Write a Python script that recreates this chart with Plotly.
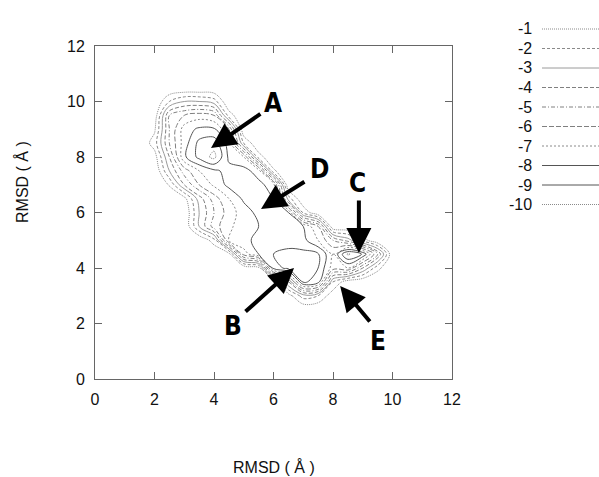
import plotly.graph_objects as go

# ---------------- data ----------------
grid_x = [1.5, 2.0, 2.5, 3.0, 3.5, 4.0, 4.5, 5.0, 5.5, 6.0, 6.5, 7.0, 7.5, 8.0, 8.5, 9.0, 9.5, 10.0, 10.5]
grid_y_top_down = [10.5, 10.0, 9.5, 9.0, 8.5, 8.0, 7.5, 7.0, 6.5, 6.0, 5.5, 5.0, 4.5, 4.0, 3.5, 3.0, 2.5]
z_rows_top_down = [
    [0, 0, 0, 0, 0, 0, 0, 0, 0, 0, 0, 0, 0, 0, 0, 0, 0, 0, 0],
    [0, 0, -2, -3, -3, -2.5, 0, 0, 0, 0, 0, 0, 0, 0, 0, 0, 0, 0, 0],
    [0, -0.3, -5, -6, -6.5, -6, -1.5, 0, 0, 0, 0, 0, 0, 0, 0, 0, 0, 0, 0],
    [0, -0.8, -5, -7.5, -8.2, -8.2, -6, 0, 0, 0, 0, 0, 0, 0, 0, 0, 0, 0, 0],
    [0, -1.5, -5, -7.5, -9.3, -9.6, -7.5, -2, 0, 0, 0, 0, 0, 0, 0, 0, 0, 0, 0],
    [0, -0.5, -4, -7.8, -9.3, -10.3, -7.8, -7, -1.5, 0, 0, 0, 0, 0, 0, 0, 0, 0, 0],
    [0, 0, -3, -5.5, -7, -7.8, -8.3, -8.4, -7.5, -1.2, 0, 0, 0, 0, 0, 0, 0, 0, 0],
    [0, 0, -1.1, -4, -6, -7.2, -8.3, -8.5, -8.3, -7.5, 0, 0, 0, 0, 0, 0, 0, 0, 0],
    [0, 0, 0, -0.6, -3.5, -5.5, -7, -8.2, -8.5, -8, -2.5, 0, 0, 0, 0, 0, 0, 0, 0],
    [0, 0, 0, 0, -3, -5, -6.5, -7.5, -8.3, -8.5, -8, -1.8, 0, 0, 0, 0, 0, 0, 0],
    [0, 0, 0, 0, -3, -5.5, -6.8, -7.5, -8, -8.5, -8.6, -8, -6, 0, 0, 0, 0, 0, 0],
    [0, 0, 0, 0, 0, -1.5, -7, -7.8, -8.2, -8.5, -8.7, -8.3, -7, -5, -3.5, -1.5, 0, 0, 0],
    [0, 0, 0, 0, 0, 0, -0.5, -6.5, -8, -9.0, -9.2, -9.3, -9.1, -7, -10.2, -8.9, -5, 0, 0],
    [0, 0, 0, 0, 0, 0, 0, 0, -0.5, -8.5, -9.3, -9.6, -9, -6.5, -7, -4, -1.3, 0, 0],
    [0, 0, 0, 0, 0, 0, 0, 0, 0, 0, -4, -9.2, -8.5, -2, -0.3, 0, 0, 0, 0],
    [0, 0, 0, 0, 0, 0, 0, 0, 0, 0, -0.5, -2.5, -2, -0.3, 0, 0, 0, 0, 0],
    [0, 0, 0, 0, 0, 0, 0, 0, 0, 0, 0, 0, 0, 0, 0, 0, 0, 0, 0],
]
levels = [-1, -2, -3, -4, -5, -6, -7, -8, -9, -10]
level_labels = ["-1", "-2", "-3", "-4", "-5", "-6", "-7", "-8", "-9", "-10"]

tick_vals = [0, 2, 4, 6, 8, 10, 12]

# labelled basins: letter, arrow head (x, y), arrow tail (x, y), letter position (x, y)
basin_letters = ["A", "D", "C", "B", "E"]
arrow_heads = [(3.9, 8.32), (5.58, 6.13), (8.87, 4.54), (6.69, 4.0), (8.24, 3.35)]
arrow_tails = [(5.61, 9.59), (7.09, 7.14), (8.87, 6.49), (5.01, 2.38), (9.28, 2.02)]
letter_pos = [(5.98, 9.95), (7.53, 7.57), (8.81, 7.06), (4.64, 1.91), (9.51, 1.37)]

# ---------------- styles ----------------
line_styles = {
    -1: dict(color="#8a8a8a", width=1, dash="1px,1px"),
    -2: dict(color="#8a8a8a", width=1, dash="3px,2px"),
    -3: dict(color="#9a9a9a", width=1, dash="solid"),
    -4: dict(color="#808080", width=1, dash="4px,2px"),
    -5: dict(color="#808080", width=1, dash="4px,2px,1px,2px"),
    -6: dict(color="#808080", width=1, dash="5px,2px"),
    -7: dict(color="#8a8a8a", width=1, dash="2px,2px"),
    -8: dict(color="#555555", width=1, dash="solid"),
    -9: dict(color="#555555", width=1, dash="solid"),
    -10: dict(color="#8a8a8a", width=1, dash="1px,1px"),
}

grid_y = grid_y_top_down[::-1]
z = z_rows_top_down[::-1]

fig = go.Figure()
for lv in levels:
    fig.add_trace(go.Contour(
        x=grid_x, y=grid_y, z=z,
        autocontour=False,
        contours=dict(start=lv, end=lv, size=0.5, coloring="none"),
        line=line_styles[lv],
        showscale=False, showlegend=False, hoverinfo="skip",
    ))

# manual legend (label on the left, line sample on the right)
W, H = 599, 477
ml, mr, mt, mb = 95, 147, 46, 98
pw, ph = W - ml - mr, H - mt - mb

def px2paper(px, py):
    return (px - ml) / pw, (H - mb - py) / ph

shapes = []
annotations = []
for i, (lv, lab) in enumerate(zip(levels, level_labels)):
    py = 29 + 19.5 * i
    tx, ty = px2paper(534, py)
    x0, _ = px2paper(542, py)
    x1, _ = px2paper(599, py)
    annotations.append(dict(text=lab, x=tx, y=ty, xref="paper", yref="paper",
                            xanchor="right", yanchor="middle", showarrow=False,
                            font=dict(family="Liberation Sans, Arial, sans-serif", size=16, color="#111")))
    st = line_styles[lv]
    shapes.append(dict(type="line", xref="paper", yref="paper", x0=x0, x1=x1, y0=ty, y1=ty,
                       line=dict(color=st["color"], width=st["width"], dash=st["dash"])))

for letter, hd, tl, lp in zip(basin_letters, arrow_heads, arrow_tails, letter_pos):
    annotations.append(dict(text="", x=hd[0], y=hd[1], ax=tl[0], ay=tl[1],
                            xref="x", yref="y", axref="x", ayref="y",
                            showarrow=True, arrowhead=2, arrowsize=1.25, arrowwidth=4,
                            arrowcolor="#000", standoff=0, startstandoff=0))
    annotations.append(dict(text="<b>" + letter + "</b>", x=lp[0], y=lp[1], xref="x", yref="y",
                            showarrow=False, xanchor="center", yanchor="middle",
                            font=dict(family="DejaVu Sans Condensed, Liberation Sans Narrow, sans-serif",
                                      size=26, color="#000")))

# axis titles
xt_x, xt_y = px2paper(274, 467)
yt_x, yt_y = px2paper(22, 182)
annotations.append(dict(text="RMSD ( Å )", x=xt_x, y=xt_y, xref="paper", yref="paper",
                        showarrow=False, xanchor="center", yanchor="middle",
                        font=dict(family="Liberation Sans, Arial, sans-serif", size=16, color="#111")))
annotations.append(dict(text="RMSD ( Å )", x=yt_x, y=yt_y, xref="paper", yref="paper",
                        showarrow=False, xanchor="center", yanchor="middle", textangle=-90,
                        font=dict(family="Liberation Sans, Arial, sans-serif", size=16, color="#111")))

axis_common = dict(
    range=[0, 12], tickvals=tick_vals, ticktext=[str(t) for t in tick_vals],
    ticks="inside", ticklen=7, tickcolor="#666", tickwidth=1,
    showline=True, linecolor="#666", linewidth=1, mirror="ticks",
    showgrid=False, zeroline=False,
    tickfont=dict(family="Liberation Sans, Arial, sans-serif", size=16, color="#111"),
    ticklabelstandoff=6,
)

fig.update_layout(
    width=W, height=H,
    margin=dict(l=ml, r=mr, t=mt, b=mb),
    paper_bgcolor="white", plot_bgcolor="white",
    xaxis=axis_common,
    yaxis=axis_common,
    shapes=shapes,
    annotations=annotations,
    showlegend=False,
)

fig.write_html("out.html")
